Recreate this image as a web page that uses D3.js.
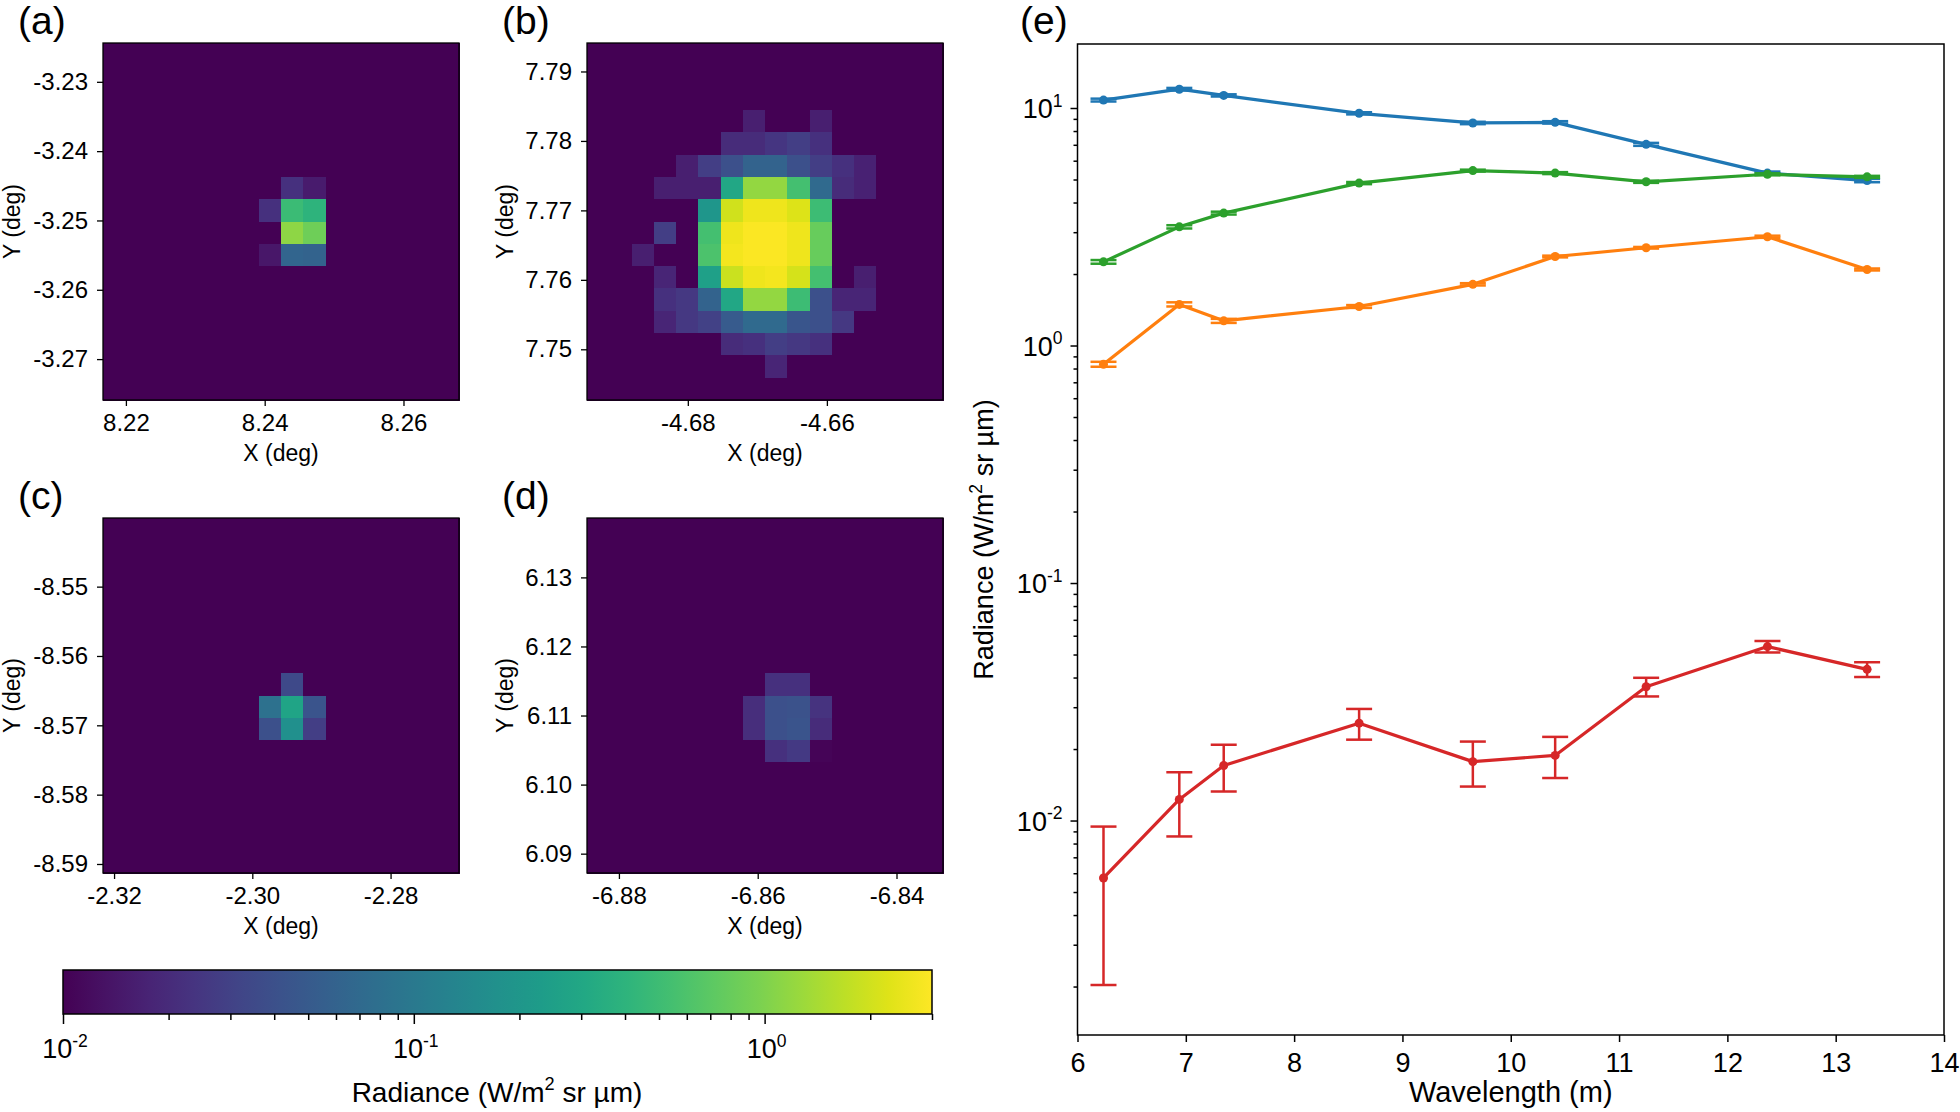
<!DOCTYPE html>
<html>
<head>
<meta charset="utf-8">
<script src="https://cdn.jsdelivr.net/npm/d3@7"></script>
<style>
  body { margin: 0; background: #fff; }
  text { font-family: "Liberation Sans", Arial, sans-serif; fill: #000; }
</style>
</head>
<body>
<svg id="fig" width="1960" height="1112"></svg>
<script>
// ---------- data ----------
var bgValue = 0.01;
var cmapDomain = [0.01, 3.0];
var gridSize = 16;

// pixel lists: [row from top, col from left, radiance]
var aExtentX = [8.2167, 8.2680], aExtentY = [-3.2759, -3.2244];
var aTicksX = [8.22, 8.24, 8.26], aTicksY = [-3.27, -3.26, -3.25, -3.24, -3.23];
var aPixels = [[6,8,0.022],[6,9,0.015],[7,7,0.022],[7,8,0.49],[7,9,0.40],
               [8,8,1.15],[8,9,0.85],[9,7,0.014],[9,8,0.063],[9,9,0.06]];

var bExtentX = [-4.6945, -4.6433], bExtentY = [7.7427, 7.7941];
var bTicksX = [-4.68, -4.66], bTicksY = [7.75, 7.76, 7.77, 7.78, 7.79];
var bPixels = [[3,7,0.016],[3,10,0.016],
  [4,6,0.02],[4,7,0.02],[4,8,0.024],[4,9,0.028],[4,10,0.022],
  [5,4,0.016],[5,5,0.028],[5,6,0.04],[5,7,0.06],[5,8,0.06],[5,9,0.04],[5,10,0.028],[5,11,0.022],[5,12,0.017],
  [6,3,0.016],[6,4,0.016],[6,5,0.016],[6,6,0.3],[6,7,1.2],[6,8,1.2],[6,9,0.55],[6,10,0.07],[6,11,0.02],[6,12,0.017],
  [7,5,0.2],[7,6,2.0],[7,7,2.6],[7,8,2.6],[7,9,2.2],[7,10,0.5],
  [8,3,0.028],[8,5,0.55],[8,6,2.6],[8,7,2.9],[8,8,2.9],[8,9,2.6],[8,10,0.8],
  [9,2,0.016],[9,5,0.6],[9,6,2.7],[9,7,2.9],[9,8,2.9],[9,9,2.6],[9,10,0.8],
  [10,3,0.018],[10,5,0.25],[10,6,1.9],[10,7,2.6],[10,8,2.7],[10,9,2.1],[10,10,0.55],[10,12,0.016],
  [11,3,0.022],[11,4,0.025],[11,5,0.06],[11,6,0.3],[11,7,1.2],[11,8,1.2],[11,9,0.5],[11,10,0.04],[11,11,0.018],[11,12,0.018],
  [12,3,0.018],[12,4,0.025],[12,5,0.03],[12,6,0.05],[12,7,0.07],[12,8,0.07],[12,9,0.045],[12,10,0.04],[12,11,0.025],
  [13,6,0.02],[13,7,0.022],[13,8,0.028],[13,9,0.025],[13,10,0.022],
  [14,8,0.018]];

var cExtentX = [-2.3216, -2.2701], cExtentY = [-8.5913, -8.5401];
var cTicksX = [-2.32, -2.30, -2.28], cTicksY = [-8.59, -8.58, -8.57, -8.56, -8.55];
var cPixels = [[7,8,0.035],[8,7,0.083],[8,8,0.28],[8,9,0.044],[9,7,0.04],[9,8,0.17],[9,9,0.028]];

var dExtentX = [-6.8846, -6.8333], dExtentY = [6.0872, 6.1386];
var dTicksX = [-6.88, -6.86, -6.84], dTicksY = [6.09, 6.10, 6.11, 6.12, 6.13];
var dPixels = [[7,8,0.022],[7,9,0.022],[8,7,0.021],[8,8,0.04],[8,9,0.042],[8,10,0.023],
               [9,7,0.021],[9,8,0.04],[9,9,0.044],[9,10,0.02],[10,8,0.022],[10,9,0.026],[10,10,0.0105]];

// panel (e)
var wavelength = [6.24, 6.94, 7.35, 8.60, 9.65, 10.41, 11.25, 12.37, 13.29];
var blueVals   = [10.8, 12.0, 11.3, 9.5, 8.65, 8.7, 7.03, 5.32, 4.95];
var blueErr    = [0.15, 0.15, 0.12, 0.1, 0.1, 0.1, 0.1, 0.08, 0.08];
var orangeVals = [0.834, 1.49, 1.27, 1.46, 1.81, 2.37, 2.58, 2.87, 2.09];
var orangeErr  = [0.02, 0.03, 0.025, 0.02, 0.02, 0.02, 0.02, 0.03, 0.02];
var greenVals  = [2.25, 3.16, 3.61, 4.83, 5.45, 5.32, 4.89, 5.26, 5.13];
var greenErr   = [0.04, 0.05, 0.05, 0.05, 0.05, 0.05, 0.05, 0.05, 0.05];
var redVals    = [0.00573, 0.01227, 0.01705, 0.0257, 0.0177, 0.0188, 0.0366, 0.054, 0.0433];
var redErr     = [0.0037, 0.0037, 0.0038, 0.0038, 0.0038, 0.0037, 0.0033, 0.003, 0.0031];
var eTicksX = [6, 7, 8, 9, 10, 11, 12, 13, 14];
var eTicksY = [0.01, 0.1, 1, 10];
var eExpY = ["-2", "-1", "0", "1"];
var cbTicks = [0.01, 0.1, 1];
var cbExp = ["-2", "-1", "0"];

// ---------- drawing ----------
var svg = d3.select("#fig");
var color = d3.scaleSequentialLog(d3.interpolateViridis).domain(cmapDomain).clamp(true);

function supText(sel, base, sup, rest, fs) {
  sel.append("tspan").text(base);
  sel.append("tspan").attr("font-size", fs * 0.65).attr("dy", -fs * 0.42).text(sup);
  if (rest) sel.append("tspan").attr("dy", fs * 0.42).text(rest);
}

function imagePanel(box, extX, extY, ticksX, ticksY, pixels, letter, labelX) {
  var x = d3.scaleLinear().domain(extX).range([box.x0, box.x1]);
  var y = d3.scaleLinear().domain(extY).range([box.y1, box.y0]);
  var dx = (extX[1] - extX[0]) / gridSize, dy = (extY[1] - extY[0]) / gridSize;
  var grid = [];
  for (var r = 0; r < gridSize; r++)
    for (var c = 0; c < gridSize; c++) grid.push({r: r, c: c, v: bgValue});
  pixels.forEach(function(p) { grid[p[0] * gridSize + p[1]].v = p[2]; });

  var g = svg.append("g");
  g.append("g").attr("shape-rendering", "crispEdges")
    .selectAll("rect").data(grid).enter().append("rect")
    .attr("x", function(d) { return x(extX[0] + d.c * dx); })
    .attr("y", function(d) { return y(extY[1] - d.r * dy); })
    .attr("width", function(d) { return x(extX[0] + (d.c + 1) * dx) - x(extX[0] + d.c * dx) + 1; })
    .attr("height", function(d) { return y(extY[1] - (d.r + 1) * dy) - y(extY[1] - d.r * dy) + 1; })
    .attr("fill", function(d) { return color(d.v); });

  g.append("rect").attr("x", box.x0).attr("y", box.y0)
    .attr("width", box.x1 - box.x0).attr("height", box.y1 - box.y0)
    .attr("fill", "none").attr("stroke", "#000").attr("stroke-width", 1.3);

  var ax = g.append("g").attr("transform", "translate(0," + box.y1 + ")")
    .call(d3.axisBottom(x).tickValues(ticksX).tickSize(6).tickPadding(8));
  var ay = g.append("g").attr("transform", "translate(" + box.x0 + ",0)")
    .call(d3.axisLeft(y).tickValues(ticksY).tickSize(6).tickPadding(9));
  [ax, ay].forEach(function(a) {
    a.select(".domain").remove();
    a.selectAll("line").attr("stroke", "#000").attr("stroke-width", 1.3);
    a.selectAll("text").attr("font-size", 24).attr("fill", "#000")
      .attr("font-family", "'Liberation Sans', Arial, sans-serif")
      .text(function(d) { return d3.format(".2f")(d).replace("\u2212", "-"); });
  });

  g.append("text").attr("x", (box.x0 + box.x1) / 2).attr("y", box.y1 + 61)
    .attr("text-anchor", "middle").attr("font-size", 23).text("X (deg)");
  g.append("text").attr("transform", "translate(" + labelX + "," + ((box.y0 + box.y1) / 2) + ") rotate(-90)")
    .attr("text-anchor", "middle").attr("font-size", 23).text("Y (deg)");
  g.append("text").attr("x", box.x0 - 85).attr("y", box.y0 - 9)
    .attr("font-size", 39).text("(" + letter + ")");
}

imagePanel({x0: 103, x1: 459, y0: 43, y1: 400}, aExtentX, aExtentY, aTicksX, aTicksY, aPixels, "a", 20);
imagePanel({x0: 587, x1: 943, y0: 43, y1: 400}, bExtentX, bExtentY, bTicksX, bTicksY, bPixels, "b", 513);
imagePanel({x0: 103, x1: 459, y0: 518, y1: 873}, cExtentX, cExtentY, cTicksX, cTicksY, cPixels, "c", 20);
imagePanel({x0: 587, x1: 943, y0: 518, y1: 873}, dExtentX, dExtentY, dTicksX, dTicksY, dPixels, "d", 513);

// ---------- colorbar ----------
var cb = {x0: 63, x1: 932, y0: 970, y1: 1014};
var cbScale = d3.scaleLog().domain(cmapDomain).range([cb.x0, cb.x1]);
var grad = svg.append("defs").append("linearGradient").attr("id", "viridis");
d3.range(0, 1.0001, 0.05).forEach(function(t) {
  grad.append("stop").attr("offset", t).attr("stop-color", d3.interpolateViridis(t));
});
svg.append("rect").attr("x", cb.x0).attr("y", cb.y0).attr("width", cb.x1 - cb.x0).attr("height", cb.y1 - cb.y0)
  .attr("fill", "url(#viridis)").attr("stroke", "#000").attr("stroke-width", 1.5);
var cbMinor = [];
[0.01, 0.1, 1].forEach(function(dec) {
  for (var k = 2; k <= 9; k++) if (dec * k <= cmapDomain[1]) cbMinor.push(dec * k);
});
var cbAxMinor = svg.append("g").attr("transform", "translate(0," + cb.y1 + ")")
  .call(d3.axisBottom(cbScale).tickValues(cbMinor).tickFormat("").tickSize(6));
var cbAxMajor = svg.append("g").attr("transform", "translate(0," + cb.y1 + ")")
  .call(d3.axisBottom(cbScale).tickValues(cbTicks).tickFormat("").tickSize(10));
[cbAxMinor, cbAxMajor].forEach(function(a) {
  a.select(".domain").remove();
  a.selectAll("line").attr("stroke", "#000").attr("stroke-width", 1.5);
});
cbTicks.forEach(function(t, i) {
  supText(svg.append("text").attr("x", cbScale(t) + 2).attr("y", 1058).attr("text-anchor", "middle")
    .attr("font-size", 27), "10", cbExp[i], null, 27);
});
supText(svg.append("text").attr("x", 497).attr("y", 1102).attr("text-anchor", "middle").attr("font-size", 28),
  "Radiance (W/m", "2", " sr \u00b5m)", 28);

// ---------- panel (e) ----------
var eb = {x0: 1077.5, x1: 1944, y0: 44, y1: 1035};
var ex = d3.scaleLinear().domain([6, 14]).range([eb.x0, eb.x1]);
var ey = d3.scaleLog().domain([Math.pow(10, -2.903), Math.pow(10, 1.2695)]).range([eb.y1, eb.y0]);
var ge = svg.append("g");

var eyMinor = [];
[0.001, 0.01, 0.1, 1].forEach(function(dec) {
  for (var k = 2; k <= 9; k++) {
    var v = dec * k;
    if (v >= ey.domain()[0] && v <= ey.domain()[1]) eyMinor.push(v);
  }
});
var eAxX = ge.append("g").attr("transform", "translate(0," + eb.y1 + ")")
  .call(d3.axisBottom(ex).tickValues(eTicksX).tickFormat(d3.format("d")).tickSize(7).tickPadding(11));
var eAxYm = ge.append("g").attr("transform", "translate(" + eb.x0 + ",0)")
  .call(d3.axisLeft(ey).tickValues(eyMinor).tickFormat("").tickSize(4));
var eAxY = ge.append("g").attr("transform", "translate(" + eb.x0 + ",0)")
  .call(d3.axisLeft(ey).tickValues(eTicksY).tickFormat("").tickSize(7));
[eAxX, eAxYm, eAxY].forEach(function(a) {
  a.select(".domain").remove();
  a.selectAll("line").attr("stroke", "#000").attr("stroke-width", 1.5);
});
eAxX.selectAll("text").attr("font-size", 27).attr("fill", "#000")
  .attr("font-family", "'Liberation Sans', Arial, sans-serif");
eTicksY.forEach(function(t, i) {
  supText(ge.append("text").attr("x", eb.x0 - 15).attr("y", ey(t) + 10).attr("text-anchor", "end")
    .attr("font-size", 27), "10", eExpY[i], null, 27);
});
ge.append("text").attr("x", (eb.x0 + eb.x1) / 2).attr("y", 1102).attr("text-anchor", "middle")
  .attr("font-size", 29).text("Wavelength (m)");
supText(ge.append("text").attr("transform", "translate(993," + ((eb.y0 + eb.y1) / 2) + ") rotate(-90)")
  .attr("text-anchor", "middle").attr("font-size", 27), "Radiance (W/m", "2", " sr \u00b5m)", 27);
ge.append("text").attr("x", 1020).attr("y", 34).attr("font-size", 39).text("(e)");

var series = [
  {vals: blueVals,   err: blueErr,   color: "#1f77b4"},
  {vals: orangeVals, err: orangeErr, color: "#ff7f0e"},
  {vals: greenVals,  err: greenErr,  color: "#2ca02c"},
  {vals: redVals,    err: redErr,    color: "#d62728"}
];
var line = d3.line().x(function(d) { return ex(d.x); }).y(function(d) { return ey(d.y); });
series.forEach(function(s) {
  var pts = wavelength.map(function(w, i) { return {x: w, y: s.vals[i], e: s.err[i]}; });
  var gs = ge.append("g");
  gs.append("path").datum(pts).attr("d", line).attr("fill", "none")
    .attr("stroke", s.color).attr("stroke-width", 3.2).attr("stroke-linejoin", "round");
  var eg = gs.selectAll("g.err").data(pts).enter().append("g").attr("class", "err")
    .attr("stroke", s.color).attr("stroke-width", 2.5);
  eg.append("line")
    .attr("x1", function(d) { return ex(d.x); }).attr("x2", function(d) { return ex(d.x); })
    .attr("y1", function(d) { return ey(d.y + d.e); }).attr("y2", function(d) { return ey(Math.max(d.y - d.e, 1e-4)); });
  eg.append("line")
    .attr("x1", function(d) { return ex(d.x) - 13; }).attr("x2", function(d) { return ex(d.x) + 13; })
    .attr("y1", function(d) { return ey(d.y + d.e); }).attr("y2", function(d) { return ey(d.y + d.e); });
  eg.append("line")
    .attr("x1", function(d) { return ex(d.x) - 13; }).attr("x2", function(d) { return ex(d.x) + 13; })
    .attr("y1", function(d) { return ey(Math.max(d.y - d.e, 1e-4)); }).attr("y2", function(d) { return ey(Math.max(d.y - d.e, 1e-4)); });
  gs.selectAll("circle").data(pts).enter().append("circle")
    .attr("cx", function(d) { return ex(d.x); }).attr("cy", function(d) { return ey(d.y); })
    .attr("r", 4.5).attr("fill", s.color);
});

ge.append("rect").attr("x", eb.x0).attr("y", eb.y0).attr("width", eb.x1 - eb.x0).attr("height", eb.y1 - eb.y0)
  .attr("fill", "none").attr("stroke", "#000").attr("stroke-width", 1.5);
</script>
</body>
</html>
